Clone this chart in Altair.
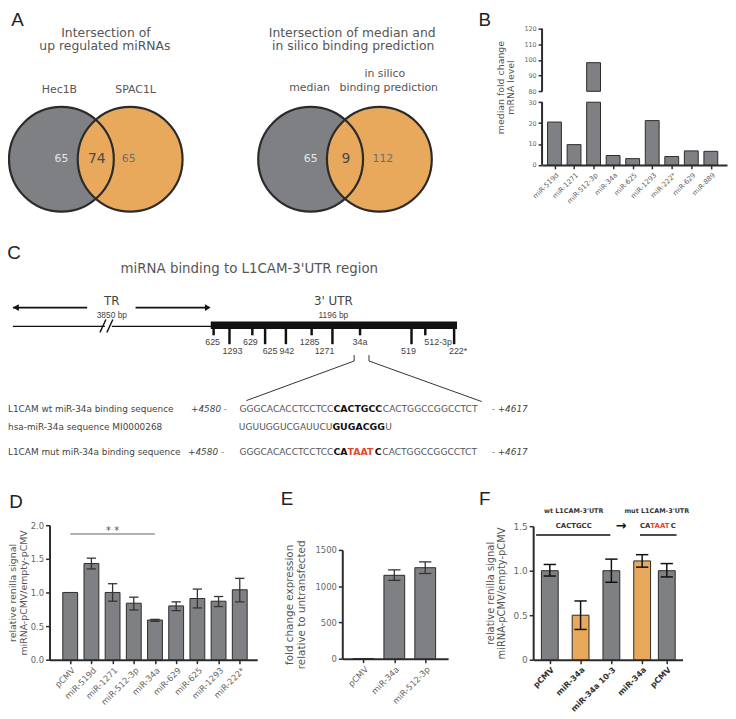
import json
import altair as alt
import pandas as pd

W, H = 728, 711
M = 8  # page margin: reference pixel = chart pixel + M


def px(v):
    return v - M


FONT = "DejaVu Sans"
NARROW = "Liberation Sans"
GREY = "#7f8083"
ORANGE = "#E9A95D"
EDGE = "#2b2b2b"
TXT = "#555555"
LBL = "#666666"
RED = "#E8462B"

# ---------------- data ----------------
venn1_names = ["Hec1B", "SPAC1L"]
venn1_counts = [65, 74, 65]
venn2_names = ["median", "in silico", "binding prediction"]
venn2_counts = [65, 9, 112]

b_mirs = ["miR-519d", "miR-1271", "miR-512-3p", "miR-34a", "miR-625",
          "miR-1293", "miR-222*", "miR-629", "miR-889"]
b_vals = [20.5, 9.7, 98.3, 4.5, 3.0, 21.2, 4.0, 6.7, 6.5]
b_ticks = [0, 10, 20, 30, 80, 90, 100, 110, 120]
b_break = [30, 80]

c_sites = ["625", "1293", "629", "625", "942", "1285", "1271", "34a", "519", "512-3p", "222*"]
c_site_bp = [14, 91, 202, 264, 365, 490, 591, 725, 975, 1042, 1182]
c_site_row = [1, 2, 1, 2, 2, 1, 2, 1, 2, 1, 2]
c_label_dx = [-1, 3, -2, 5, 1, -2, -8, 0, -3, 13, 4]
c_utr_len = 1196

d_labels = ["pCMV", "miR-519d", "miR-1271", "miR-512-3p", "miR-34a",
            "miR-629", "miR-625", "miR-1293", "miR-222*"]
d_mean = [1.00, 1.43, 1.00, 0.84, 0.59, 0.80, 0.91, 0.87, 1.04]
d_lo = [1.00, 1.35, 0.87, 0.74, 0.57, 0.73, 0.77, 0.79, 0.86]
d_hi = [1.00, 1.51, 1.13, 0.93, 0.60, 0.86, 1.05, 0.94, 1.21]
d_sig = ("pCMV", "miR-34a", 1.87, "* *")

e_labels = ["pCMV", "miR-34a", "miR-512-3p"]
e_mean = [1, 1150, 1255]
e_lo = [1, 1080, 1175]
e_hi = [1, 1225, 1335]

f_labels = ["pCMV", "miR-34a", "miR-34a 10-3", "miR-34a", "pCMV"]
f_pos = [0, 1, 2, 3, 3.8]
f_mean = [1.00, 0.50, 1.00, 1.11, 1.00]
f_lo = [0.94, 0.34, 0.87, 1.04, 0.93]
f_hi = [1.07, 0.66, 1.13, 1.18, 1.08]
f_col = [GREY, ORANGE, GREY, ORANGE, GREY]

# ---------------- helpers ----------------
DUMMY = pd.DataFrame({"d": [0]})


def txt(x, y, s, size=9, color=TXT, weight="normal", align="center",
        baseline="middle", style="normal", font=FONT):
    return alt.Chart(DUMMY).mark_text(
        text=s, font=font, fontSize=size, color=color, fontWeight=weight,
        fontStyle=style, align=align, baseline=baseline
    ).encode(x=alt.value(px(x)), y=alt.value(px(y)))


CX = alt.Scale(domain=[M, W + M], range=[0, W], nice=False, zero=False)
CY = alt.Scale(domain=[M, H + M], range=[0, H], nice=False, zero=False)


def segs(rows, color=EDGE, width=1.0):
    df = pd.DataFrame(rows, columns=["xa", "ya", "xb", "yb"])
    return alt.Chart(df).mark_rule(color=color, strokeWidth=width).encode(
        x=alt.X("xa:Q", scale=CX, axis=None), y=alt.Y("ya:Q", scale=CY, axis=None),
        x2="xb:Q", y2="yb:Q")


def x_axis(axis_y, values, labels, size=8.5, color=LBL, weight="normal"):
    expr = "%s[indexof(%s, datum.value)]" % (json.dumps(labels), json.dumps(values))
    return alt.Axis(orient="bottom", offset=px(axis_y) - H, values=values, labelExpr=expr,
                    labelAngle=-45, labelAlign="right", labelBaseline="top", labelFont=FONT,
                    labelFontSize=size, labelColor=color, labelFontWeight=weight,
                    labelPadding=2, labelFlush=False, labelOverlap=False, title=None,
                    domainColor=EDGE, domainWidth=2, tickColor=EDGE, tickWidth=1.5,
                    tickSize=4, grid=False)


def y_axis(axis_x, values, title, size=8.5, fmt=None, expr=None, title_size=10,
           title_pad=7, domain=True, title_y=None, line_h=None):
    kw = dict(orient="left", offset=-px(axis_x), values=values, title=title,
              labelFont=FONT, labelFontSize=size, labelColor=LBL, labelPadding=2,
              labelFlush=False, labelOverlap=False, domain=domain, domainColor=EDGE,
              domainWidth=2, tickColor=EDGE, tickWidth=1.5, tickSize=4, grid=False,
              titleFont=FONT, titleFontSize=title_size, titleFontWeight="normal",
              titleColor=TXT, titlePadding=title_pad,
              titleLineHeight=line_h if line_h else title_size * 1.1)
    if fmt:
        kw["format"] = fmt
    if expr:
        kw["labelExpr"] = expr
    if title_y is not None:
        kw["titleY"] = title_y
    return alt.Axis(**kw)


def caps(df, half):
    rows = []
    for _, r in df.iterrows():
        for v in (r["lo"], r["hi"]):
            rows.append({"xa": r["pos"] - half, "xb": r["pos"] + half, "v": v})
    return pd.DataFrame(rows)


def bar_panel(df, xs, ys, xax, yax, bar_w, cap_half, err_color, err_w):
    bars = alt.Chart(df).mark_bar(size=bar_w, stroke=EDGE, strokeWidth=1).encode(
        x=alt.X("pos:Q", scale=xs, axis=xax),
        y=alt.Y("mean:Q", scale=ys, axis=yax), y2="base:Q",
        fill=alt.Fill("col:N", scale=None))
    err_df = df[df["hi"] > df["lo"]]
    err = alt.Chart(err_df).mark_rule(color=err_color, strokeWidth=err_w).encode(
        x=alt.X("pos:Q", scale=xs), y=alt.Y("lo:Q", scale=ys), y2="hi:Q")
    cap = alt.Chart(caps(err_df, cap_half)).mark_rule(color=err_color, strokeWidth=err_w).encode(
        x=alt.X("xa:Q", scale=xs), x2="xb:Q", y=alt.Y("v:Q", scale=ys))
    return [bars, err, cap]


layers = []

# ---------------- panel letters ----------------
for (lx, ly, s) in [(17.5, 22, "A"), (490, 22, "B"), (14, 258, "C"),
                    (16, 510, "D"), (290, 507, "E"), (490, 507, "F")]:
    layers.append(txt(lx, ly, s, size=19, color="#222", baseline="alphabetic",
                      font="Liberation Sans"))

# ---------------- panel A: Venn diagrams ----------------
VR = 53
venn_layout = pd.DataFrame({"cx": [62, 131.5, 314, 383.5], "cy": [157] * 4,
                            "fill": [GREY, ORANGE, GREY, ORANGE]})
layers.append(alt.Chart(venn_layout).mark_point(
    shape="circle", filled=True, opacity=1, size=(2 * VR) ** 2, strokeWidth=0).encode(
    x=alt.X("cx:Q", scale=CX, axis=None), y=alt.Y("cy:Q", scale=CY, axis=None),
    fill=alt.Fill("fill:N", scale=None)))
layers.append(alt.Chart(venn_layout).mark_point(
    shape="circle", filled=False, opacity=1, size=(2 * VR) ** 2, color=EDGE,
    strokeWidth=2.2).encode(
    x=alt.X("cx:Q", scale=CX, axis=None), y=alt.Y("cy:Q", scale=CY, axis=None)))

layers += [
    txt(107, 29, "Intersection of", size=12.5),
    txt(106, 43, "up regulated miRNAs", size=12.5),
    txt(356, 29, "Intersection of median and", size=12.5),
    txt(357, 43, "in silico binding prediction", size=12.5),
    txt(60, 87, venn1_names[0], size=11),
    txt(137, 87, venn1_names[1], size=11),
    txt(313, 85, venn2_names[0], size=11),
    txt(389, 71, venn2_names[1], size=11),
    txt(393, 85, venn2_names[2], size=11),
]
for (cxl, cxr, counts, dxr) in [(62, 131.5, venn1_counts, -1.5), (314, 383.5, venn2_counts, 3.5)]:
    layers.append(txt(cxl, 157, str(counts[0]), size=11, color="#e6e6e6"))
    layers.append(txt((cxl + cxr) / 2 + 1, 157, str(counts[1]), size=14, color="#4a4a4a"))
    layers.append(txt(cxr + dxr, 157, str(counts[2]), size=11, color="#6d6d6d"))

# ---------------- panel B: broken-axis bar chart ----------------
b_pos = list(range(len(b_mirs)))
bx = alt.Scale(domain=[-0.383, 8.575], range=[px(548), px(735)], nice=False, zero=False)
by = alt.Scale(domain=[0, 30, 80, 120], range=[px(162.7), px(99.3), px(88.3), px(25)],
               nice=False, zero=False)
b_rows = []
for i, v in enumerate(b_vals):
    if v > b_break[0]:
        b_rows += [(i, 0, b_break[0]), (i, b_break[1], v)]
    else:
        b_rows.append((i, 0, v))
b_df = pd.DataFrame(b_rows, columns=["pos", "y0", "y1"])
b_bars = alt.Chart(b_df).mark_bar(size=14, fill=GREY, stroke=EDGE, strokeWidth=1).encode(
    x=alt.X("pos:Q", scale=bx, axis=x_axis(162.7, b_pos, b_mirs, size=7)),
    y=alt.Y("y0:Q", scale=by, axis=y_axis(548, b_ticks, ["median fold change", "mRNA level"],
                                           size=6.5, domain=False, title_size=9.5,
                                           title_pad=8, title_y=px(84))),
    y2="y1:Q")
b_axis_df = pd.DataFrame({"a": [0, b_break[1]], "b": [b_break[0], 120]})
b_axis = alt.Chart(b_axis_df).mark_rule(color=EDGE, strokeWidth=2).encode(
    x=alt.value(px(548)), y=alt.Y("a:Q", scale=by), y2="b:Q")
layers.append(alt.layer(b_bars, b_axis))

# ---------------- panel C: 3'UTR schematic ----------------
layers.append(txt(252, 268, "miRNA binding to L1CAM-3'UTR region", size=13.5))
layers += [
    segs([(13, 307, 88, 307), (137, 307, 210, 307)], color="#111", width=1.6),
    segs([(13, 326, 106, 326), (113, 326, 214, 326)], color="#111", width=1.4),
    segs([(101, 332, 107, 319), (108, 332, 114, 319)], color="#111", width=1.4),
    segs([(358, 355, 358, 361), (358, 361, 249, 401), (373, 355, 373, 361),
          (373, 361, 487, 402)], color="#333", width=1.0),
]
arrow_df = pd.DataFrame({"x": [16, 210], "y": [307, 307], "shape": ["triangle-left", "triangle-right"]})
layers.append(alt.Chart(arrow_df).mark_point(filled=True, opacity=1, size=45, color="#111").encode(
    x=alt.X("x:Q", scale=CX, axis=None), y=alt.Y("y:Q", scale=CY, axis=None),
    shape=alt.Shape("shape:N", scale=None)))
layers += [
    txt(113, 300, "TR", size=12, color="#444"),
    txt(113, 314, "3850 bp", size=8.5, color="#444", font=NARROW),
    txt(337, 300, "3' UTR", size=12, color="#444"),
    txt(337, 314, "1196 bp", size=8.5, color="#444", font=NARROW),
]
ux = alt.Scale(domain=[0, c_utr_len], range=[px(213), px(462)], nice=False, zero=False)
bp_per_px = c_utr_len / 249.0
utr_df = pd.DataFrame({"a": [0], "b": [c_utr_len], "t": [321], "u": [328.5]})
utr_bar = alt.Chart(utr_df).mark_rect(color="#111").encode(
    x=alt.X("a:Q", scale=ux, axis=None), x2="b:Q",
    y=alt.Y("t:Q", scale=CY, axis=None), y2="u:Q")
site_df = pd.DataFrame({
    "bp": c_site_bp, "lab": c_sites,
    "top": [328] * len(c_sites),
    "end": [335 if r == 1 else 344 for r in c_site_row],
    "ly": [341.5 if r == 1 else 351 for r in c_site_row],
    "lx": [b + d * bp_per_px for b, d in zip(c_site_bp, c_label_dx)],
})
site_ticks = alt.Chart(site_df).mark_rule(color="#111", strokeWidth=2.5).encode(
    x=alt.X("bp:Q", scale=ux, axis=None), y=alt.Y("top:Q", scale=CY, axis=None), y2="end:Q")
site_labels = alt.Chart(site_df).mark_text(font=NARROW, fontSize=9, color="#444").encode(
    x=alt.X("lx:Q", scale=ux, axis=None), y=alt.Y("ly:Q", scale=CY, axis=None), text="lab:N")
layers.append(alt.layer(utr_bar, site_ticks, site_labels))

# sequences
SEQ = 9.2
layers += [
    txt(8, 410, "L1CAM wt miR-34a binding sequence", size=9, color="#444", align="left"),
    txt(193, 410, "+4580 -", size=9, color="#444", align="left", style="italic"),
    txt(337, 410, "GGGCACACCTCCTCC", size=SEQ, color="#555", align="right"),
    txt(337, 410, "CACTGCC", size=9.5, color="#111", weight="bold", align="left"),
    txt(387, 410, "CACTGGCCGGCCTCT", size=SEQ, color="#555", align="left"),
    txt(497, 410, "- +4617", size=9, color="#444", align="left", style="italic"),
    txt(8, 428, "hsa-miR-34a sequence MI0000268", size=9, color="#444", align="left"),
    txt(336, 428, "UGUUGGUCGAUUCU", size=SEQ, color="#555", align="right"),
    txt(336, 428, "GUGACGG", size=9.5, color="#111", weight="bold", align="left"),
    txt(389.5, 428, "U", size=SEQ, color="#555", align="left"),
    txt(8, 453, "L1CAM mut miR-34a binding sequence", size=9, color="#444", align="left"),
    txt(190, 453, "+4580 -", size=9, color="#444", align="left", style="italic"),
    txt(337, 453, "GGGCACACCTCCTCC", size=SEQ, color="#555", align="right"),
    txt(337, 453, "CA", size=9.5, color="#111", weight="bold", align="left"),
    txt(351.3, 453, "TAAT", size=9.5, color=RED, weight="bold", align="left"),
    txt(378.9, 453, "C", size=9.5, color="#111", weight="bold", align="left"),
    txt(386.5, 453, "CACTGGCCGGCCTCT", size=SEQ, color="#555", align="left"),
    txt(497, 453, "- +4617", size=9, color="#444", align="left", style="italic"),
]

# ---------------- panel D ----------------
d_pos = list(range(len(d_labels)))
dxs = alt.Scale(domain=[-0.742, 8.591], range=[px(50), px(260)], nice=False, zero=False)
dys = alt.Scale(domain=[0, 2], range=[px(663), px(527)], nice=False, zero=False)
d_df = pd.DataFrame({"pos": d_pos, "mean": d_mean, "lo": d_lo, "hi": d_hi,
                     "base": 0, "col": GREY})
d_layers = bar_panel(
    d_df, dxs, dys,
    x_axis(663, d_pos, d_labels),
    y_axis(50, [0, 0.5, 1, 1.5, 2], ["relative renilla signal", "miRNA-pCMV/empty-pCMV"],
           fmt=".1f", title_size=9.5, title_pad=2, line_h=10.5),
    15, 0.22, "#333", 1.3)
i0, i1 = d_labels.index(d_sig[0]), d_labels.index(d_sig[1])
sig_df = pd.DataFrame({"a": [i0], "b": [i1], "v": [d_sig[2]], "m": [(i0 + i1) / 2], "s": [d_sig[3]]})
d_layers.append(alt.Chart(sig_df).mark_rule(color="#9a9a9a", strokeWidth=1.5).encode(
    x=alt.X("a:Q", scale=dxs), x2="b:Q", y=alt.Y("v:Q", scale=dys)))
d_layers.append(alt.Chart(sig_df).mark_text(font=FONT, fontSize=10, color="#555",
                                            baseline="alphabetic").encode(
    x=alt.X("m:Q", scale=dxs), y=alt.Y("v:Q", scale=dys), text="s:N"))
layers.append(alt.layer(*d_layers))

# ---------------- panel E ----------------
e_pos = list(range(len(e_labels)))
exs = alt.Scale(domain=[-0.522, 2.58], range=[px(346), px(453)], nice=False, zero=False)
eys = alt.Scale(domain=[0, 1500], range=[px(662), px(552)], nice=False, zero=False)
e_df = pd.DataFrame({"pos": e_pos, "mean": e_mean, "lo": e_lo, "hi": e_hi,
                     "base": 0, "col": GREY})
layers.append(alt.layer(*bar_panel(
    e_df, exs, eys,
    x_axis(662, e_pos, e_labels),
    y_axis(346, [0, 500, 1000, 1500], ["fold change expression", "relative to untransfected"],
           fmt="d", title_size=10.5, title_pad=9),
    21, 0.2, "#333", 1.3)))

# ---------------- panel F ----------------
fxs = alt.Scale(domain=[-0.38, 4.15], range=[px(539), px(690)], nice=False, zero=False)
fys = alt.Scale(domain=[0, 1.5], range=[px(663), px(528)], nice=False, zero=False)
f_df = pd.DataFrame({"pos": f_pos, "mean": f_mean, "lo": f_lo, "hi": f_hi,
                     "base": 0, "col": f_col})
layers.append(alt.layer(*bar_panel(
    f_df, fxs, fys,
    x_axis(663, f_pos, f_labels, size=8, color="#333", weight="bold"),
    y_axis(539, [0, 0.5, 1, 1.5], ["relative renilla signal", "miRNA-pCMV/empty-pCMV"],
           expr="datum.value == 0 ? '0' : format(datum.value, '.1f')", size=9, title_pad=7),
    17, 0.2, "#111", 1.5)))
layers += [
    txt(580, 513, "wt L1CAM-3'UTR", size=6.5, color="#333", weight="bold"),
    txt(664, 513, "mut L1CAM-3'UTR", size=6.5, color="#333", weight="bold"),
    txt(580, 528, "CACTGCC", size=7, color="#333", weight="bold"),
    txt(628, 528, "\u2192", size=13, color="#111", weight="bold"),
    txt(647, 528, "CA", size=7, color="#333", weight="bold", align="left"),
    txt(657.5, 528, "TAAT", size=7, color=RED, weight="bold", align="left"),
    txt(678, 528, "C", size=7, color="#333", weight="bold", align="left"),
    segs([(542, 537, 617, 537), (647, 537, 684, 537)], color="#111", width=1.5),
]

chart = alt.layer(*layers).resolve_scale(x="independent", y="independent").properties(
    width=W, height=H, padding=0, background="white",
    autosize=alt.AutoSizeParams(type="none"),
).configure_view(stroke=None)

chart.save("out.html", embed_options={"renderer": "svg", "actions": False})
